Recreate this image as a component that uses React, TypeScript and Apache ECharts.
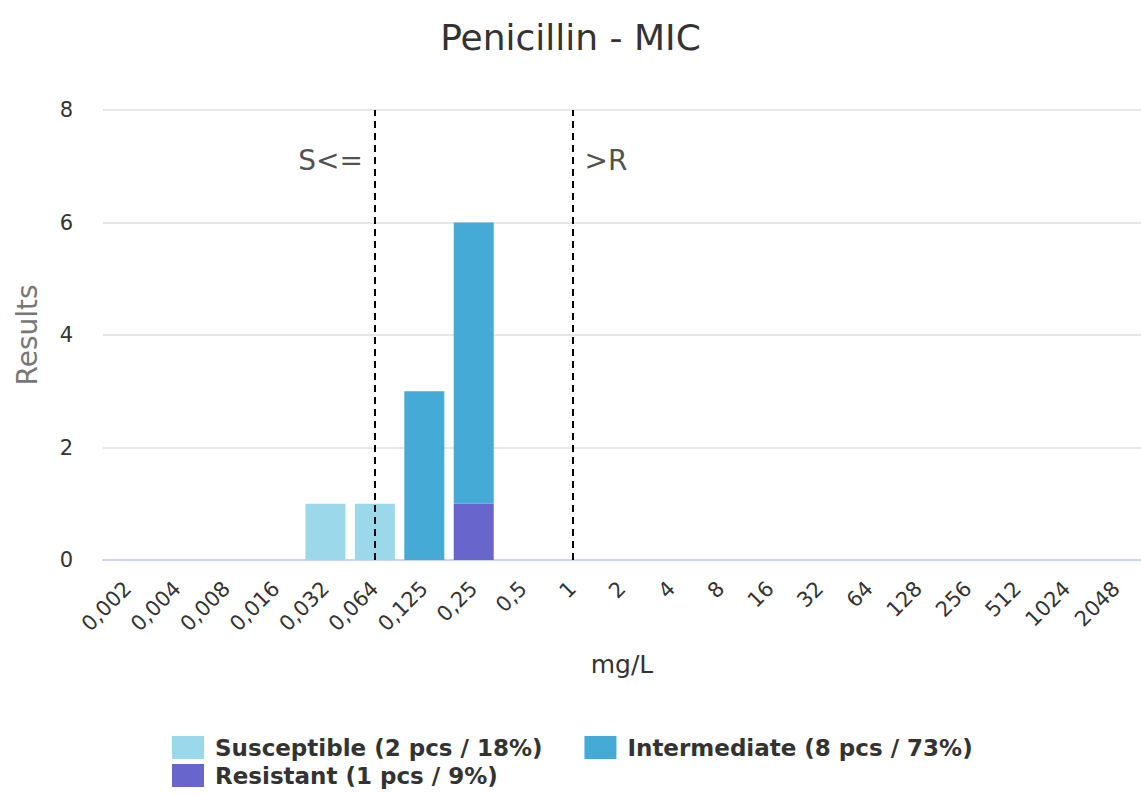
import React, { useEffect, useRef } from "react";
import * as echarts from "echarts";

const categories = ["0,002","0,004","0,008","0,016","0,032","0,064","0,125","0,25","0,5","1","2","4","8","16","32","64","128","256","512","1024","2048"];
const susceptible = [null,null,null,null,1,1,null,null,null,null,null,null,null,null,null,null,null,null,null,null,null];
const intermediate = [null,null,null,null,null,null,3,5,null,null,null,null,null,null,null,null,null,null,null,null,null];
const resistant = [null,null,null,null,null,null,null,1,null,null,null,null,null,null,null,null,null,null,null,null,null];
const seriesNames = ["Susceptible (2 pcs / 18%)", "Intermediate (8 pcs / 73%)", "Resistant (1 pcs / 9%)"];
const breakpointS = "0,064";
const breakpointR = "1";
const breakpointLabelY = 7.1;

const FONT = "DejaVu Sans";

export default function App() {
  const ref = useRef<HTMLDivElement>(null);
  useEffect(() => {
    document.body.style.margin = "0";
    const chart = echarts.init(ref.current!, null, { renderer: "svg" });
    const dashLine = { color: "#000", width: 2, type: [7, 5] as any };
    const legendCommon = {
      left: 167,
      itemWidth: 32,
      itemHeight: 23,
      itemGap: 42,
      icon: "rect",
      textStyle: { fontFamily: FONT, fontSize: 23, fontWeight: "bold", color: "#333", padding: [0, 0, 0, 6] },
    };
    chart.setOption({
      animation: false,
      textStyle: { fontFamily: FONT },
      title: {
        text: "Penicillin - MIC",
        left: "center",
        top: 14,
        textStyle: { fontFamily: FONT, fontSize: 36, fontWeight: "normal", color: "#333" },
      },
      legend: [
        { ...legendCommon, data: [seriesNames[0], seriesNames[1]], top: 731 },
        { ...legendCommon, data: [seriesNames[2]], top: 759 },
      ],
      grid: { left: 103, top: 110, width: 1040, height: 450, containLabel: false },
      xAxis: {
        type: "category",
        data: categories,
        boundaryGap: true,
        name: "mg/L",
        nameLocation: "middle",
        nameGap: 92,
        nameTextStyle: { fontFamily: FONT, fontSize: 25, color: "#333" },
        axisLine: { lineStyle: { color: "#ccd6eb", width: 2 } },
        axisTick: { alignWithLabel: true, length: 10, lineStyle: { color: "#ccd6eb", width: 2 } },
        axisLabel: { rotate: 45, fontSize: 21, color: "#333", margin: 25, interval: 0, fontFamily: FONT },
        splitLine: { show: false },
      },
      yAxis: {
        type: "value",
        min: 0,
        max: 8,
        interval: 2,
        name: "Results",
        nameLocation: "middle",
        nameRotate: 90,
        nameGap: 62,
        nameTextStyle: { fontFamily: FONT, fontSize: 28, color: "#777" },
        axisLine: { show: false },
        axisTick: { show: false },
        axisLabel: { fontSize: 21, color: "#333", margin: 30, fontFamily: FONT },
        splitLine: { lineStyle: { color: "#e6e6e6", width: 2 } },
      },
      series: [
        {
          name: seriesNames[0],
          type: "bar",
          stack: "mic",
          barWidth: 40,
          data: susceptible,
          itemStyle: { color: "#9bd9ea" },
          markLine: {
            symbol: "none",
            silent: true,
            label: { show: false },
            lineStyle: dashLine,
            data: [{ xAxis: breakpointS }, { xAxis: breakpointR }],
          },
        },
        {
          name: seriesNames[2],
          type: "bar",
          stack: "mic",
          barWidth: 40,
          data: resistant,
          itemStyle: { color: "#6866cc" },
        },
        {
          name: seriesNames[1],
          type: "bar",
          stack: "mic",
          barWidth: 40,
          data: intermediate,
          itemStyle: { color: "#45aad5" },
        },
        {
          name: "labels",
          type: "scatter",
          symbolSize: 0,
          silent: true,
          data: [
            { value: [breakpointS, breakpointLabelY], label: { formatter: "S<=", position: "left", distance: 12 } },
            { value: [breakpointR, breakpointLabelY], label: { formatter: ">R", position: "right", distance: 12 } },
          ],
          label: { show: true, fontSize: 28, color: "#222", fontFamily: FONT },
        },
      ],
    });
    return () => chart.dispose();
  }, []);
  return <div ref={ref} style={{ width: 1141, height: 795 }} />;
}
